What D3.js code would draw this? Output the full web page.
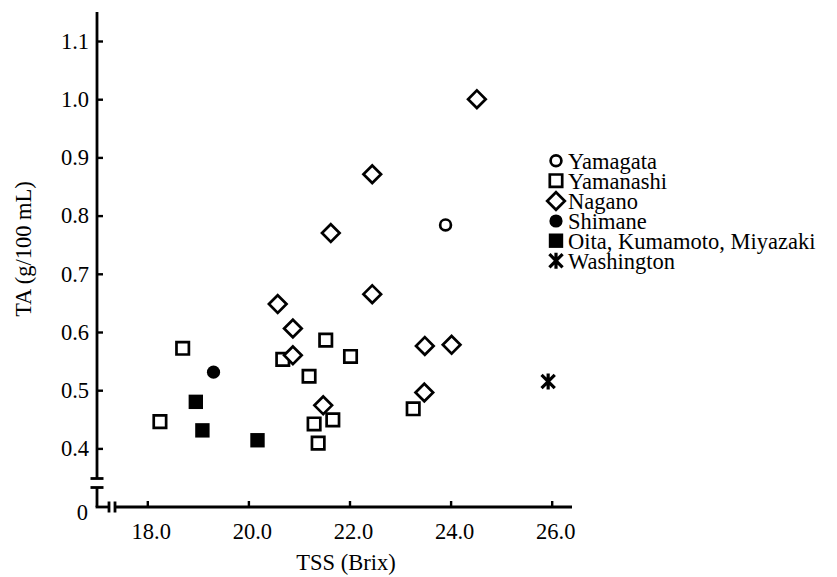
<!DOCTYPE html>
<html><head><meta charset="utf-8">
<script src="https://cdn.jsdelivr.net/npm/d3@7"></script>
<style>body{margin:0;background:#fff}text{font-family:"Liberation Serif","Times New Roman",serif;fill:#000}</style>
</head><body>
<svg id="c" width="837" height="577"></svg>
<script>
// ---- data ----
const seriesNames = ["Yamagata", "Yamanashi", "Nagano", "Shimane", "Oita, Kumamoto, Miyazaki", "Washington"];
const yamagata = [[23.90, 0.784]];
const yamanashi = [[18.70, 0.572], [18.25, 0.446], [20.68, 0.553], [21.53, 0.586], [22.02, 0.558],
                   [21.20, 0.524], [21.30, 0.442], [21.67, 0.449], [21.38, 0.409], [23.26, 0.468]];
const nagano = [[24.52, 1.000], [22.45, 0.871], [21.63, 0.770], [20.58, 0.648], [22.45, 0.665],
                [20.88, 0.606], [20.88, 0.560], [21.48, 0.474], [23.49, 0.576], [24.02, 0.578], [23.48, 0.496]];
const shimane = [[19.31, 0.531]];
const kyushu = [[18.96, 0.480], [19.09, 0.431], [20.18, 0.414]];
const washington = [[25.93, 0.515]];
const xTicks = [18, 20, 22, 24, 26];
const yTicks = [0.4, 0.5, 0.6, 0.7, 0.8, 0.9, 1.0, 1.1];

// ---- layout ----
const svg = d3.select("#c");
const axisX0 = 97, axisY0 = 507;
const FS = 22.5;
const x = d3.scaleLinear().domain([18, 26]).range([147.3, 551.7]);
const y = d3.scaleLinear().domain([0.4, 1.1]).range([448.4, 41]);
const SW = 2.8;

// custom symbol types
const openSquare = {draw(c){ const h = 6.2; c.rect(-h, -h, 2*h, 2*h); }};
const diamond = {draw(c){ const h = 8.8; c.moveTo(0,-h); c.lineTo(h,0); c.lineTo(0,h); c.lineTo(-h,0); c.closePath(); }};
const filledSquare = {draw(c){ const h = 7.2; c.rect(-h, -h, 2*h, 2*h); }};
const openCircle = {draw(c){ c.moveTo(5.4,0); c.arc(0,0,5.4,0,2*Math.PI); }};
const filledCircle = {draw(c){ c.moveTo(6.6,0); c.arc(0,0,6.6,0,2*Math.PI); }};
const asterisk = {draw(c){ const h = 8, dx = 6.6, dy = 6.6;
  c.moveTo(0,-h); c.lineTo(0,h); c.moveTo(-dx,-dy); c.lineTo(dx,dy); c.moveTo(dx,-dy); c.lineTo(-dx,dy); }};

const series = [
  {name: seriesNames[0], data: yamagata, type: openCircle, fill: "none", stroke: "#000", sw: 2.7},
  {name: seriesNames[1], data: yamanashi, type: openSquare, fill: "#fff", stroke: "#000", sw: 2.7},
  {name: seriesNames[2], data: nagano, type: diamond, fill: "#fff", stroke: "#000", sw: 2.7},
  {name: seriesNames[3], data: shimane, type: filledCircle, fill: "#000", stroke: "none", sw: 0},
  {name: seriesNames[4], data: kyushu, type: filledSquare, fill: "#000", stroke: "none", sw: 0},
  {name: seriesNames[5], data: washington, type: asterisk, fill: "none", stroke: "#000", sw: 3.2}
];

// ---- axes ----
const line = (x1, y1, x2, y2, w) => svg.append("line").attr("x1", x1).attr("y1", y1)
  .attr("x2", x2).attr("y2", y2).attr("stroke", "#000").attr("stroke-width", w || SW);
// y axis with break
line(axisX0, 12, axisX0, 478.5);
line(axisX0 - 6.5, 478.5, axisX0 + 6.5, 478.5);
line(axisX0 - 6.5, 487.5, axisX0 + 6.5, 487.5);
line(axisX0, 487.5, axisX0, axisY0);
// x axis with break
line(axisX0 - SW/2, axisY0, 109, axisY0);
line(109, axisY0 - 5.5, 109, axisY0 + 5.5);
line(115, axisY0 - 5.5, 115, axisY0 + 5.5);
line(115, axisY0, 572, axisY0);

// y ticks via d3 axis
const yAxis = svg.append("g").attr("transform", `translate(${axisX0},0)`)
  .call(d3.axisRight(y).tickValues(yTicks).tickSize(6).tickFormat(""));
yAxis.select(".domain").remove();
yAxis.selectAll(".tick line").attr("stroke", "#000").attr("stroke-width", 2.4);
svg.append("g").selectAll("text").data(yTicks).join("text")
  .attr("x", 89).attr("y", d => y(d)).attr("dy", "0.35em").attr("text-anchor", "end")
  .attr("font-size", FS).text(d => d.toFixed(1));
svg.append("text").attr("x", 88).attr("y", 512).attr("dy", "0.35em").attr("text-anchor", "end")
  .attr("font-size", FS).text("0");

// x ticks via d3 axis
const xAxis = svg.append("g").attr("transform", `translate(0,${axisY0})`)
  .call(d3.axisTop(x).tickValues(xTicks).tickSize(6).tickFormat(""));
xAxis.select(".domain").remove();
xAxis.selectAll(".tick line").attr("stroke", "#000").attr("stroke-width", 2.4);
svg.append("g").selectAll("text").data(xTicks).join("text")
  .attr("x", d => x(d) + 4).attr("y", 539).attr("text-anchor", "middle")
  .attr("font-size", FS).text(d => d.toFixed(1));

// axis titles
svg.append("text").attr("x", 346).attr("y", 570).attr("text-anchor", "middle")
  .attr("font-size", FS).text("TSS (Brix)");
svg.append("text").attr("transform", "translate(31,249) rotate(-90)").attr("text-anchor", "middle")
  .attr("font-size", FS).text("TA (g/100 mL)");

// ---- points ----
const sym = d3.symbol();
series.forEach(s => {
  svg.append("g").selectAll("path").data(s.data).join("path")
    .attr("transform", d => `translate(${x(d[0])},${y(d[1])})`)
    .attr("d", sym.type(s.type)())
    .attr("fill", s.fill).attr("stroke", s.stroke).attr("stroke-width", s.sw);
});

// ---- legend ----
const legY = [160.7, 180.7, 201, 221, 240.7, 260.7];
const leg = svg.append("g");
series.forEach((s, i) => {
  leg.append("path").attr("transform", `translate(556,${legY[i]})`)
    .attr("d", sym.type(s.type)())
    .attr("fill", s.fill).attr("stroke", s.stroke).attr("stroke-width", s.sw);
  leg.append("text").attr("x", 568).attr("y", legY[i]).attr("dy", "0.35em")
    .attr("font-size", FS).text(s.name);
});
</script>
</body></html>
